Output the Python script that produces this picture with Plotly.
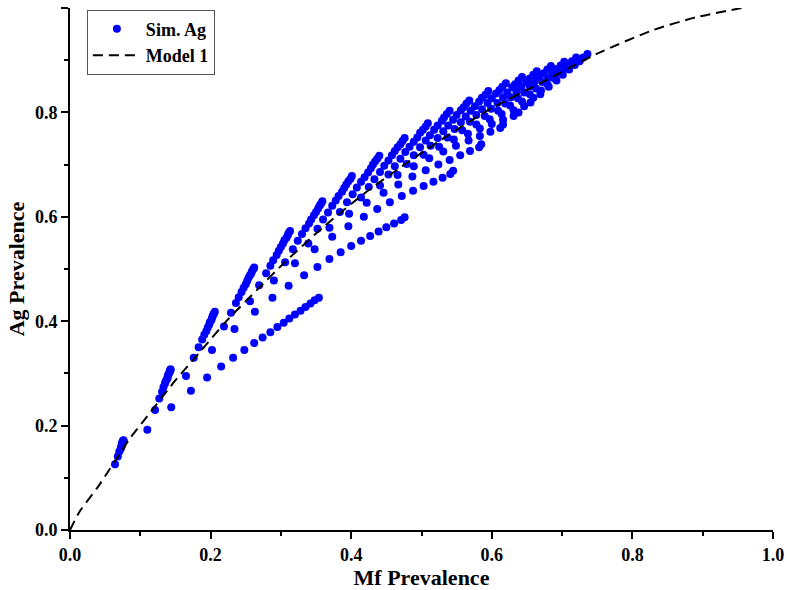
import plotly.graph_objects as go

# ---- Simulated points, read column by column (each column = one steep streak) ----
col01_x = [.064,.068,.070,.072,.073,.073,.074,.074,.074,.075,.075,.075,.075,.076,.076,.076]
col01_y = [.126,.141,.150,.155,.159,.161,.163,.164,.166,.167,.168,.169,.170,.171,.171,.172]
col02_x = [.110,.121,.127,.131,.133,.135,.136,.138,.139,.139,.140,.141,.142,.142,.143,.143]
col02_y = [.192,.230,.252,.265,.274,.280,.285,.289,.292,.295,.298,.301,.303,.305,.306,.308]
col03_x = [.144,.165,.176,.183,.188,.191,.194,.196,.198,.199,.201,.202,.203,.204,.205,.206]
col03_y = [.235,.295,.330,.350,.365,.374,.381,.388,.393,.398,.402,.406,.410,.413,.415,.418]
col04_x = [.172,.202,.219,.229,.236,.240,.244,.247,.250,.252,.254,.256,.258,.259,.261,.262]
col04_y = [.267,.345,.390,.416,.435,.446,.456,.464,.471,.477,.483,.488,.492,.496,.500,.503]
col05_x = [.195,.234,.256,.269,.279,.285,.289,.294,.297,.300,.303,.305,.308,.310,.311,.313]
col05_y = [.292,.385,.438,.469,.492,.506,.517,.527,.535,.542,.549,.555,.560,.565,.569,.573]
col06_x = [.215,.263,.290,.306,.317,.324,.330,.335,.340,.343,.347,.350,.353,.355,.357,.359]
col06_y = [.313,.418,.478,.513,.538,.554,.567,.578,.587,.595,.603,.609,.616,.621,.625,.630]
col07_x = [.232,.288,.320,.339,.352,.360,.367,.373,.378,.382,.387,.390,.393,.396,.399,.401]
col07_y = [.330,.445,.511,.549,.577,.595,.608,.621,.631,.640,.648,.655,.662,.668,.673,.678]
col08_x = [.248,.311,.348,.369,.384,.394,.402,.408,.414,.419,.424,.428,.431,.434,.437,.440]
col08_y = [.345,.468,.538,.579,.609,.628,.643,.656,.667,.676,.685,.693,.700,.706,.711,.717]
col09_x = [.262,.333,.373,.397,.414,.425,.433,.441,.447,.453,.458,.462,.466,.470,.473,.476]
col09_y = [.358,.488,.562,.606,.637,.657,.672,.686,.698,.708,.718,.726,.733,.739,.745,.751]
col10_x = [.274,.352,.396,.422,.441,.453,.462,.470,.477,.483,.489,.494,.498,.502,.506,.509]
col10_y = [.369,.504,.582,.627,.660,.681,.697,.711,.724,.734,.744,.752,.761,.767,.773,.779]
col11_x = [.285,.369,.418,.446,.466,.479,.489,.498,.506,.512,.518,.523,.529,.532,.536,.540]
col11_y = [.379,.519,.600,.646,.680,.701,.718,.733,.746,.756,.767,.775,.784,.790,.797,.803]
col12_x = [.295,.385,.437,.467,.489,.503,.513,.523,.531,.538,.545,.550,.556,.560,.564,.568]
col12_y = [.389,.532,.615,.662,.697,.719,.736,.751,.764,.775,.786,.795,.804,.810,.817,.823]
col13_x = [.304,.400,.455,.487,.511,.525,.537,.547,.556,.563,.570,.576,.582,.586,.591,.595]
col13_y = [.397,.544,.628,.677,.712,.734,.752,.768,.781,.792,.803,.812,.821,.828,.834,.841]
col14_x = [.312,.414,.472,.506,.531,.546,.558,.569,.578,.586,.594,.600,.606,.611,.615,.620]
col14_y = [.405,.554,.640,.689,.725,.748,.766,.782,.795,.806,.818,.827,.836,.843,.849,.856]
col15_x = [.320,.427,.488,.524,.549,.566,.578,.590,.599,.608,.616,.622,.629,.633,.638,.643]
col15_y = [.413,.563,.650,.700,.736,.759,.777,.793,.807,.818,.829,.838,.848,.854,.861,.868]
col16_x = [.328,.439,.503,.540,.567,.583,.597,.609,.619,.627,.635,.642,.649,.654,.659,.664]
col16_y = [.420,.572,.659,.709,.746,.769,.787,.803,.817,.829,.840,.849,.858,.865,.872,.879]
col17_x = [.335,.450,.517,.555,.583,.600,.614,.626,.637,.646,.654,.661,.668,.674,.679,.684]
col17_y = [.427,.580,.667,.718,.755,.778,.797,.813,.827,.838,.850,.859,.868,.875,.882,.889]
col18_x = [.342,.461,.530,.569,.598,.616,.631,.643,.654,.663,.672,.680,.687,.692,.698,.703]
col18_y = [.434,.587,.675,.726,.763,.786,.804,.821,.835,.846,.858,.867,.876,.883,.890,.897]
col19_x = [.348,.471,.541,.582,.612,.631,.646,.659,.670,.679,.688,.696,.703,.709,.714,.720]
col19_y = [.440,.594,.682,.733,.770,.793,.812,.828,.842,.854,.866,.875,.884,.891,.898,.905]
col20_x = [.354,.476,.545,.585,.616,.638,.655,.669,.681,.692,.701,.710,.718,.725,.730,.736]
col20_y = [.445,.599,.688,.739,.777,.800,.819,.835,.849,.861,.872,.882,.891,.898,.905,.912]

# ---- Model 1 curve ----
model_x = [0, 0.014, 0.040, 0.085, 0.107, 0.149, 0.183, 0.223, 0.266, 0.308, 0.360, 0.420,
           0.481, 0.540, 0.597, 0.669, 0.749, 0.830, 0.890, 0.955]
model_y = [0, 0.036, 0.083, 0.175, 0.213, 0.285, 0.338, 0.401, 0.460, 0.516, 0.580, 0.646,
           0.705, 0.758, 0.806, 0.856, 0.912, 0.958, 0.982, 1.0]

tick_vals = [0.0, 0.2, 0.4, 0.6, 0.8, 1.0]
tick_text = ["0.0", "0.2", "0.4", "0.6", "0.8", "1.0"]

cols_x = [col01_x, col02_x, col03_x, col04_x, col05_x, col06_x, col07_x, col08_x, col09_x, col10_x,
          col11_x, col12_x, col13_x, col14_x, col15_x, col16_x, col17_x, col18_x, col19_x, col20_x]
cols_y = [col01_y, col02_y, col03_y, col04_y, col05_y, col06_y, col07_y, col08_y, col09_y, col10_y,
          col11_y, col12_y, col13_y, col14_y, col15_y, col16_y, col17_y, col18_y, col19_y, col20_y]
sim_x = [v for c in cols_x for v in c]
sim_y = [v for c in cols_y for v in c]

FONT = "Liberation Serif"

fig = go.Figure()
fig.add_trace(go.Scatter(
    x=sim_x, y=sim_y, mode="markers", name="Sim. Ag",
    marker=dict(color="#0000FF", size=8, line=dict(width=0)),
))
fig.add_trace(go.Scatter(
    x=model_x, y=model_y, mode="lines", name="Model 1",
    line=dict(color="black", width=2, dash="10px,6px", shape="spline", smoothing=0.6),
))

axis_common = dict(
    range=[0, 1], showline=True, linecolor="black", linewidth=2,
    ticks="outside", ticklen=7, tickwidth=2, tickcolor="black",
    tickvals=tick_vals, ticktext=tick_text,
    tickfont=dict(family=FONT, size=18, color="black", weight="bold"),
    minor=dict(ticks="outside", ticklen=4, tickwidth=2, tickcolor="black", dtick=0.1, tick0=0),
    showgrid=False, zeroline=False, mirror=False, automargin=False,
)

fig.update_layout(
    width=787, height=590,
    margin=dict(l=70, r=14, t=8, b=60, pad=0),
    paper_bgcolor="white", plot_bgcolor="white",
    xaxis=dict(axis_common, title=dict(text="Mf Prevalence", standoff=6,
               font=dict(family=FONT, size=22, color="black", weight="bold"))),
    yaxis=dict(axis_common, title=dict(text="Ag Prevalence", standoff=4,
               font=dict(family=FONT, size=22, color="black", weight="bold"))),
    legend=dict(x=0.024, y=0.997, xanchor="left", yanchor="top",
                bordercolor="#555555", borderwidth=1, bgcolor="white",
                font=dict(family=FONT, size=18, color="black", weight="bold"),
                tracegroupgap=0, itemwidth=48),
    showlegend=True,
)

fig.write_html("out.html", config={"displayModeBar": False},
               post_script="document.body.style.margin='0';document.body.style.overflow='hidden';")
